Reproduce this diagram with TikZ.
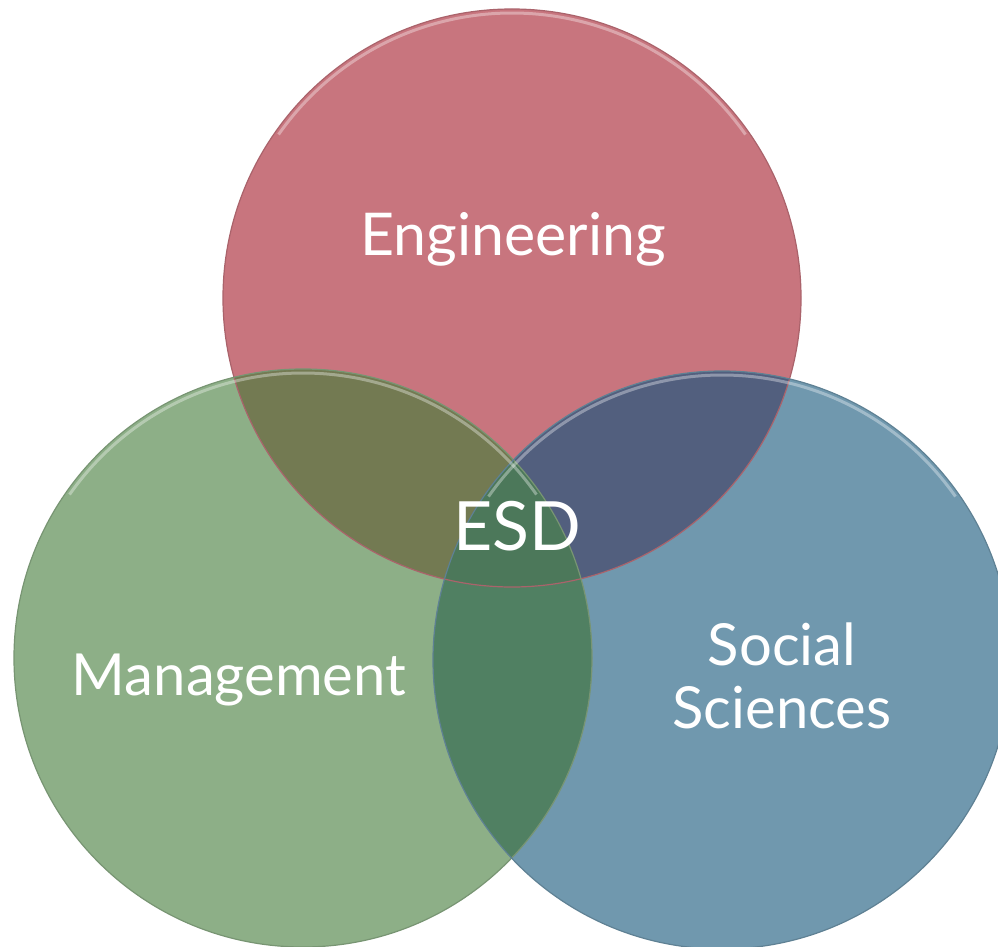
\documentclass[tikz,border=0pt]{standalone}
\usepackage{fontspec}
\setmainfont{Lato}
\usetikzlibrary{positioning}

% circle and overlap colours
\definecolor{engfill}{RGB}{200,117,126}
\definecolor{mgmtfill}{RGB}{141,175,135}
\definecolor{socfill}{RGB}{112,152,174}
\definecolor{engmgmt}{RGB}{115,122,82}
\definecolor{engsoc}{RGB}{82,95,126}
\definecolor{mgmtsoc}{RGB}{80,128,98}
\definecolor{esdfill}{RGB}{76,120,90}

\begin{document}
\begin{tikzpicture}[
    x = 1pt,
    y = -1pt,
    labelf/.style = {
      text=white,
      align=center,
      inner sep=0pt,
      anchor=base
    },
    ringf/.style = {
      line width=1.2pt
    },
    glowf/.style = {
      draw=white,
      draw opacity=.35,
      line width=3pt
    }
  ]
    \useasboundingbox (0,0) rectangle (998,947);
    \clip (0,0) rectangle (998,947);
    \def\rad{289pt}

    \coordinate (eng) at (512,298);
    \coordinate (mgmt) at (303,658);
    \coordinate (soc) at (722,660);

    % plain circles
    \fill[engfill] (eng) circle (\rad);
    \fill[mgmtfill] (mgmt) circle (\rad);
    \fill[socfill] (soc) circle (\rad);

    % overlaps
    \begin{scope}
      \clip (eng) circle (\rad);
      \fill[engmgmt] (mgmt) circle (\rad);
      \fill[engsoc] (soc) circle (\rad);
    \end{scope}
    \begin{scope}
      \clip (mgmt) circle (\rad);
      \fill[mgmtsoc] (soc) circle (\rad);
      \clip (eng) circle (\rad);
      \fill[esdfill] (soc) circle (\rad);
    \end{scope}

    % rims
    \draw[ringf, draw=engfill!85!black] (eng) circle (\rad);
    \draw[ringf, draw=mgmtfill!85!black] (mgmt) circle (\rad);
    \draw[ringf, draw=socfill!85!black] (soc) circle (\rad);
    \draw[glowf] (eng) ++(145:285pt) arc[start angle=145, end angle=35, radius=285pt];
    \draw[glowf] (mgmt) ++(145:285pt) arc[start angle=145, end angle=35, radius=285pt];
    \draw[glowf] (soc) ++(145:285pt) arc[start angle=145, end angle=35, radius=285pt];

    % labels
    \node[labelf, font=\fontsize{59}{63}\selectfont] (englabel) at (513,255) {Engineering};
    \node[labelf, font=\fontsize{68}{80}\selectfont] (esdlabel) at (517,550) {ESD};
    \node[labelf, font=\fontsize{58}{63}\selectfont] (mgmtlabel) at (239,695) {Management};
    \node[labelf, font=\fontsize{58}{63}\selectfont] (soclabel) at (782,728) {Social\\Sciences};
\end{tikzpicture}
\end{document}
